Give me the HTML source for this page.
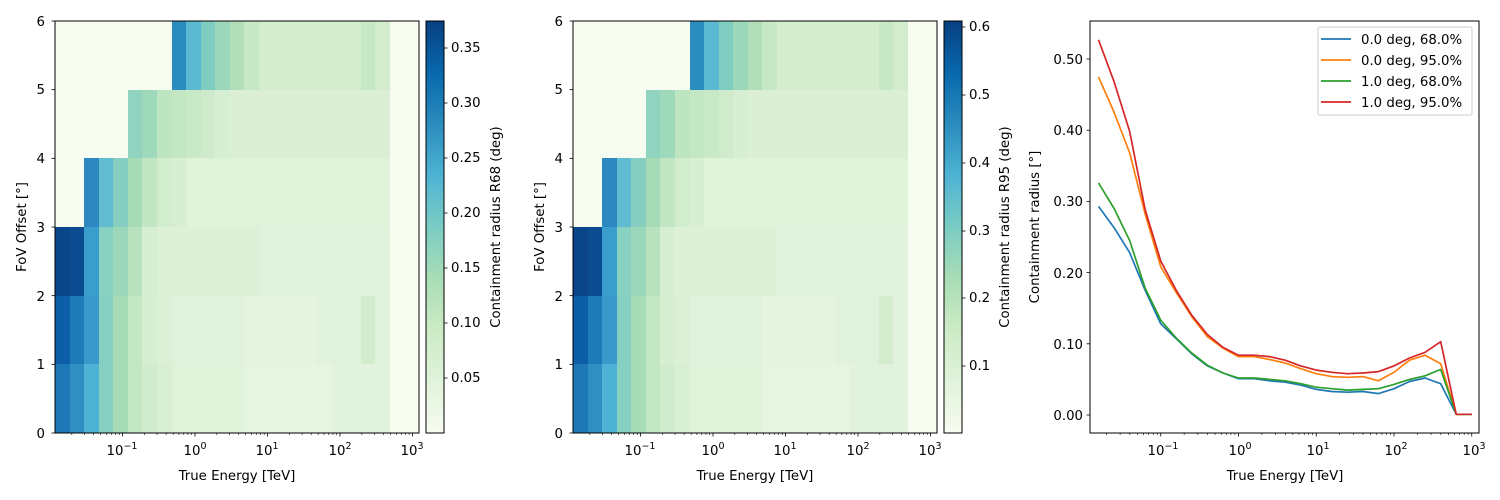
<!DOCTYPE html>
<html><head><meta charset="utf-8"><style>
html,body{margin:0;padding:0;background:#fff;}
svg{display:block;font-family:"DejaVu Sans","Liberation Sans",sans-serif;font-size:13.3px;}
</style></head><body>
<svg id="s" width="1500" height="500" xmlns="http://www.w3.org/2000/svg">
<defs>
<linearGradient id="gnbu" x1="0" y1="1" x2="0" y2="0">
<stop offset="0" stop-color="#f7fcf0"/><stop offset="0.125" stop-color="#e0f3db"/><stop offset="0.25" stop-color="#ccebc5"/><stop offset="0.375" stop-color="#a8ddb5"/><stop offset="0.5" stop-color="#7bccc4"/><stop offset="0.625" stop-color="#4eb3d3"/><stop offset="0.75" stop-color="#2b8cbe"/><stop offset="0.875" stop-color="#0868ac"/><stop offset="1" stop-color="#084081"/>
</linearGradient>
</defs>
<g id="hm1"></g><g id="hm2"></g>
<rect x="426" y="21" width="18" height="412" fill="url(#gnbu)" stroke="#000" stroke-width="1"/>
<rect x="944" y="21" width="18" height="412" fill="url(#gnbu)" stroke="#000" stroke-width="1"/>
<g id="lines"></g>
<g id="ticks" stroke="#000" stroke-width="0.8"></g>
<rect x="55" y="21" width="364" height="412" fill="none" stroke="#000" stroke-width="1"/>
<rect x="573" y="21" width="364" height="412" fill="none" stroke="#000" stroke-width="1"/>
<rect x="1090" y="21" width="389" height="412" fill="none" stroke="#000" stroke-width="1"/>
<!-- panel 1 text -->
<g text-anchor="end">
<text x="45" y="438">0</text><text x="45" y="369">1</text><text x="45" y="301">2</text><text x="45" y="232">3</text><text x="45" y="163">4</text><text x="45" y="94">5</text><text x="45" y="26">6</text>
<text x="563" y="438">0</text><text x="563" y="369">1</text><text x="563" y="301">2</text><text x="563" y="232">3</text><text x="563" y="163">4</text><text x="563" y="94">5</text><text x="563" y="26">6</text>
<text x="1083" y="420">0.00</text><text x="1083" y="349">0.10</text><text x="1083" y="278">0.20</text><text x="1083" y="206">0.30</text><text x="1083" y="135">0.40</text><text x="1083" y="64">0.50</text>
</g>
<g text-anchor="start">
<text x="451" y="52">0.35</text><text x="451" y="107">0.30</text><text x="451" y="162">0.25</text><text x="451" y="217">0.20</text><text x="451" y="272">0.15</text><text x="451" y="327">0.10</text><text x="451" y="382">0.05</text>
<text x="969" y="31">0.6</text><text x="969" y="99">0.5</text><text x="969" y="167">0.4</text><text x="969" y="235">0.3</text><text x="969" y="302">0.2</text><text x="969" y="370">0.1</text>
</g>
<g id="xl" text-anchor="middle"></g>
<text x="237" y="480" text-anchor="middle">True Energy [TeV]</text>
<text x="755" y="480" text-anchor="middle">True Energy [TeV]</text>
<text x="1285" y="480" text-anchor="middle">True Energy [TeV]</text>
<text transform="translate(26,227) rotate(-90)" text-anchor="middle">FoV Offset [°]</text>
<text transform="translate(544,227) rotate(-90)" text-anchor="middle">FoV Offset [°]</text>
<text transform="translate(500,227) rotate(-90)" text-anchor="middle">Containment radius R68 (deg)</text>
<text transform="translate(1009,227) rotate(-90)" text-anchor="middle">Containment radius R95 (deg)</text>
<text transform="translate(1039,227) rotate(-90)" text-anchor="middle">Containment radius [°]</text>
<!-- legend -->
<rect x="1318" y="27" width="154" height="88" rx="2" fill="#fff" fill-opacity="0.8" stroke="#ccc" stroke-width="1"/>
<line x1="1321" y1="39" x2="1351" y2="39" stroke="#1f77b4" stroke-width="1.7"/>
<line x1="1321" y1="60" x2="1351" y2="60" stroke="#ff7f0e" stroke-width="1.7"/>
<line x1="1321" y1="81" x2="1351" y2="81" stroke="#2ca02c" stroke-width="1.7"/>
<line x1="1321" y1="102" x2="1351" y2="102" stroke="#d62728" stroke-width="1.7"/>
<text x="1361" y="44">0.0 deg, 68.0%</text>
<text x="1361" y="65">0.0 deg, 95.0%</text>
<text x="1361" y="86">1.0 deg, 68.0%</text>
<text x="1361" y="107">1.0 deg, 95.0%</text>
<g font-size="13.3">
<text x="122" y="455" text-anchor="middle">10<tspan dy="-6" font-size="9.5">−1</tspan></text>
<text x="195" y="455" text-anchor="middle">10<tspan dy="-6" font-size="9.5">0</tspan></text>
<text x="267" y="455" text-anchor="middle">10<tspan dy="-6" font-size="9.5">1</tspan></text>
<text x="340" y="455" text-anchor="middle">10<tspan dy="-6" font-size="9.5">2</tspan></text>
<text x="412" y="455" text-anchor="middle">10<tspan dy="-6" font-size="9.5">3</tspan></text>
<text x="640" y="455" text-anchor="middle">10<tspan dy="-6" font-size="9.5">−1</tspan></text>
<text x="713" y="455" text-anchor="middle">10<tspan dy="-6" font-size="9.5">0</tspan></text>
<text x="785" y="455" text-anchor="middle">10<tspan dy="-6" font-size="9.5">1</tspan></text>
<text x="858" y="455" text-anchor="middle">10<tspan dy="-6" font-size="9.5">2</tspan></text>
<text x="930" y="455" text-anchor="middle">10<tspan dy="-6" font-size="9.5">3</tspan></text>
<text x="1163" y="455" text-anchor="middle">10<tspan dy="-6" font-size="9.5">−1</tspan></text>
<text x="1240" y="455" text-anchor="middle">10<tspan dy="-6" font-size="9.5">0</tspan></text>
<text x="1318" y="455" text-anchor="middle">10<tspan dy="-6" font-size="9.5">1</tspan></text>
<text x="1396" y="455" text-anchor="middle">10<tspan dy="-6" font-size="9.5">2</tspan></text>
<text x="1474" y="455" text-anchor="middle">10<tspan dy="-6" font-size="9.5">3</tspan></text>
</g>
</svg>
<script>
var NS="http://www.w3.org/2000/svg";
function el(p,t,a){var e=document.createElementNS(NS,t);for(var k in a)e.setAttribute(k,a[k]);p.appendChild(e);return e;}
var E="#f7fcf0";
function fill(a,from,to,c){for(var i=from;i<=to;i++)a[i]=c;}
function row(spec){var a=[];for(var i=0;i<23;i++)a[i]=E;spec(a);return a;}
var rows=[
row(function(a){fill(a,8,8,"#2b8cbe");a[9]="#5cb9d2";a[10]="#7fccc0";a[11]="#9cd7bb";a[12]="#b2dfb9";a[13]="#c6e8c4";fill(a,14,20,"#d4edcf");a[21]="#c6e8c4";a[22]="#d3ecce";}),
row(function(a){a[5]="#90d3bf";a[6]="#9fd9bb";a[7]="#bde5c0";a[8]="#c4e7c3";a[9]="#c8e9c6";a[10]="#d0ebcc";a[11]="#d6eed2";fill(a,12,22,"#daefd5");}),
row(function(a){a[2]="#2c88bf";a[3]="#62bcd1";a[4]="#86cfc0";a[5]="#a6dbb8";a[6]="#c1e6c1";a[7]="#d2ecce";a[8]="#d8eed3";fill(a,9,22,"#dff2da");}),
row(function(a){a[0]="#0a4587";a[1]="#0b4c90";a[2]="#3a9ecc";a[3]="#89d1c0";a[4]="#9bd7ba";a[5]="#b8e2bd";a[6]="#d6eed2";fill(a,7,13,"#ddf1d8");fill(a,14,22,"#e1f3dc");}),
row(function(a){a[0]="#0c5ea6";a[1]="#1f7bb8";a[2]="#3a99cb";a[3]="#86cfc1";a[4]="#a8dbb8";a[5]="#c3e7c2";a[6]="#d6eed2";a[7]="#dbf0d6";fill(a,8,12,"#e0f2db");fill(a,13,17,"#e5f4e0");fill(a,18,20,"#e0f2db");a[21]="#d3ecce";a[22]="#e0f2db";}),
row(function(a){a[0]="#1f78b6";a[1]="#2f8fc2";a[2]="#4eb2d5";a[3]="#86cfc1";a[4]="#a8dcb8";a[5]="#c3e7c2";a[6]="#d0ebcd";a[7]="#d9efd4";fill(a,8,12,"#dff2da");fill(a,13,18,"#e6f5e1");fill(a,19,22,"#e2f3dd");})
];
function heat(g,x0){
 el(g,"rect",{x:x0,y:21,width:364,height:412,fill:E});
 var w=(390-55)/23,h=412/6;
 for(var r=0;r<6;r++)for(var c=0;c<23;c++){
  var x1=Math.round(x0+c*w),x2=Math.round(x0+(c+1)*w),y1=Math.round(21+r*h),y2=Math.round(21+(r+1)*h);
  el(g,"rect",{x:x1,y:y1,width:x2-x1,height:y2-y1,fill:rows[r][c]});
 }
}
heat(document.getElementById("hm1"),55);
heat(document.getElementById("hm2"),573);
var T=document.getElementById("ticks");
function xticks(x0dec,dec,left,right){
 for(var d=-2;d<=3;d++)for(var m=1;m<10;m++){
  var x=x0dec+(d+Math.log10(m))*dec; if(x<left||x>right)continue;
  var L=m==1?3.5:2;
  el(T,"line",{x1:x,y1:433,x2:x,y2:433+L,"stroke-width":m==1?0.8:0.6});
 }
}
xticks(195,72.5,55,419);xticks(713,72.5,573,937);xticks(1238.5,77.75,1090,1479);
for(var k=0;k<=6;k++){var y=433-k*412/6;el(T,"line",{x1:51.5,y1:y,x2:55,y2:y});el(T,"line",{x1:569.5,y1:y,x2:573,y2:y});}
for(var k=0;k<=5;k++){var y=415-k*71.2;el(T,"line",{x1:1086.5,y1:y,x2:1090,y2:y});}
[48,103,158,213,268,323,378].forEach(function(y){el(T,"line",{x1:444,y1:y,x2:447.5,y2:y});});
[27,95,163,231,298,366].forEach(function(y){el(T,"line",{x1:962,y1:y,x2:965.5,y2:y});});
var data={
"#1f77b4":[0.293,0.263,0.228,0.175,0.128,0.107,0.086,0.069,0.059,0.051,0.051,0.048,0.046,0.042,0.036,0.033,0.032,0.033,0.030,0.037,0.047,0.052,0.044,0.001,0.001],
"#ff7f0e":[0.475,0.425,0.368,0.282,0.208,0.172,0.138,0.110,0.094,0.082,0.082,0.078,0.073,0.065,0.058,0.054,0.053,0.054,0.048,0.060,0.077,0.084,0.072,0.001,0.001],
"#2ca02c":[0.326,0.290,0.245,0.178,0.133,0.108,0.087,0.070,0.059,0.052,0.052,0.050,0.048,0.044,0.039,0.037,0.035,0.036,0.037,0.043,0.050,0.055,0.064,0.001,0.001],
"#d62728":[0.527,0.468,0.398,0.288,0.216,0.175,0.140,0.113,0.095,0.084,0.084,0.082,0.077,0.069,0.063,0.060,0.058,0.059,0.061,0.069,0.080,0.088,0.103,0.001,0.001]};
var LG=document.getElementById("lines");
for(var c in data){var p=[];data[c].forEach(function(v,i){var lg=-1.8+0.2*i;p.push((1238.5+lg*77.75).toFixed(1)+","+(415-v*712).toFixed(1));});
 el(LG,"polyline",{points:p.join(" "),fill:"none",stroke:c,"stroke-width":1.7,"stroke-linejoin":"round"});}
</script>
</body></html>
